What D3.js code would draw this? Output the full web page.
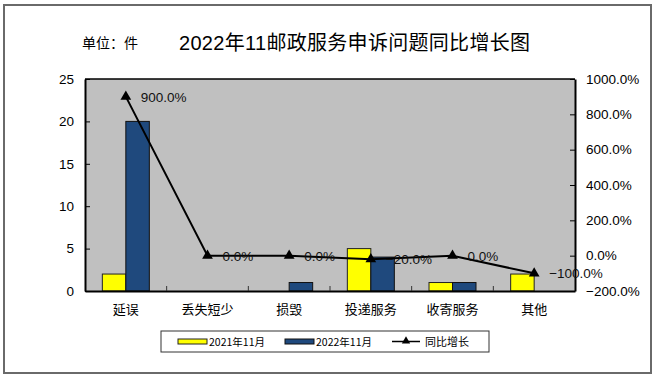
<!DOCTYPE html>
<html><head><meta charset="utf-8">
<script src="https://cdn.jsdelivr.net/npm/d3@7"></script>
<style>body{margin:0;background:#fff}svg{display:block}text{font-family:"Liberation Sans",Arial,"Noto Sans CJK SC",sans-serif}</style>
</head><body><svg id="c" width="656" height="379"></svg>
<script>
const categories = ["延误","丢失短少","损毁","投递服务","收寄服务","其他"];
const values2021 = [2,0,0,5,1,2];
const values2022 = [20,0,1,4,1,0];
const growth = [900,0,0,-20,0,-100];
const leftTicks = [0,5,10,15,20,25];
const rightTicks = [-200,0,200,400,600,800,1000];
const seriesNames = ["2021年11月","2022年11月","同比增长"];

const svg = d3.select("#c");
const cjk = '"Noto Sans CJK SC",sans-serif';
svg.append("rect").attr("x",4).attr("y",5).attr("width",647).attr("height",368)
  .attr("fill","#fff").attr("stroke","#6a6a6a").attr("stroke-width",2);

const m = {l:85,r:575,t:79,b:291};
const x = d3.scaleBand().domain(categories).range([m.l,m.r]);
const yL = d3.scaleLinear().domain([0,25]).range([m.b,m.t]);
const yR = d3.scaleLinear().domain([-200,1000]).range([m.b,m.t]);

svg.append("rect").attr("x",m.l).attr("y",m.t).attr("width",m.r-m.l).attr("height",m.b-m.t)
  .attr("fill","#c0c0c0");

// title
svg.append("text").attr("x",82).attr("y",48).attr("font-size",14).style("font-family",cjk).text("单位：件");
svg.append("text").attr("x",179).attr("y",50).attr("font-size",20).attr("textLength",351).text("2022年11邮政服务申诉问题同比增长图");

// bars
const bw = 23.5;
const g = svg.append("g");
categories.forEach((c,i)=>{
  const cx = x(c)+x.bandwidth()/2;
  if (values2021[i]>0) g.append("rect").attr("x",cx-bw).attr("y",yL(values2021[i])).attr("width",bw)
    .attr("height",yL(0)-yL(values2021[i])).attr("fill","#ffff00").attr("stroke","#222").attr("stroke-width",1);
  if (values2022[i]>0) g.append("rect").attr("x",cx).attr("y",yL(values2022[i])).attr("width",bw)
    .attr("height",yL(0)-yL(values2022[i])).attr("fill","#1f497d").attr("stroke","#111").attr("stroke-width",1);
});

// axes
const la = d3.axisLeft(yL).tickValues(leftTicks).tickSizeInner(-5).tickSizeOuter(0).tickPadding(11);
const ga = svg.append("g").attr("transform",`translate(${m.l},0)`).call(la);
ga.select(".domain").attr("stroke","#000").attr("stroke-width",2);
ga.selectAll("text").attr("font-size",13.5).attr("fill","#000");
const ra = d3.axisRight(yR).tickValues(rightTicks).tickSizeInner(-5).tickSizeOuter(0).tickPadding(11)
  .tickFormat(d=>d3.format(".1f")(d)+"%");
const gr = svg.append("g").attr("transform",`translate(${m.r},0)`).call(ra);
gr.select(".domain").attr("stroke","#000").attr("stroke-width",2);
gr.selectAll("text").attr("font-size",13.5).attr("fill","#000");
// top border
svg.append("line").attr("x1",m.l).attr("x2",m.r).attr("y1",m.t).attr("y2",m.t).attr("stroke","#000").attr("stroke-width",1.5);
// bottom axis
const ba = d3.axisBottom(x).tickSize(0).tickPadding(14);
const gb = svg.append("g").attr("transform",`translate(0,${m.b})`).call(ba);
gb.select(".domain").attr("stroke","#000").attr("stroke-width",2);
gb.selectAll("text").attr("font-size",13).attr("fill","#000").style("font-family",cjk);
categories.slice(1).forEach(c=>{
  svg.append("line").attr("x1",x(c)).attr("x2",x(c)).attr("y1",m.b).attr("y2",m.b-5).attr("stroke","#333");
});

// line
const pts = categories.map((c,i)=>[x(c)+x.bandwidth()/2, yR(growth[i])]);
svg.append("path").attr("d",d3.line()(pts)).attr("fill","none").attr("stroke","#000").attr("stroke-width",2);
const tri = d3.symbol().type(d3.symbolTriangle).size(50);
pts.forEach((p,i)=>{
  svg.append("path").attr("d",tri()).attr("transform",`translate(${p[0]},${p[1]})`).attr("fill","#000");
  svg.append("text").attr("x",p[0]+15).attr("y",p[1]+5).attr("font-size",13.5).attr("fill","#111")
    .text(d3.format(".1f")(growth[i])+"%");
});

// legend
svg.append("rect").attr("x",161).attr("y",331).attr("width",328).attr("height",21)
  .attr("fill","#fff").attr("stroke","#333").attr("stroke-width",1);
svg.append("rect").attr("x",178).attr("y",339).attr("width",29).attr("height",5).attr("fill","#ffff00").attr("stroke","#222");
svg.append("text").attr("x",209).attr("y",346).attr("font-size",10.5).style("font-family",cjk).text(seriesNames[0]);
svg.append("rect").attr("x",285).attr("y",339).attr("width",29).attr("height",5).attr("fill","#1f497d").attr("stroke","#111");
svg.append("text").attr("x",316).attr("y",346).attr("font-size",10.5).style("font-family",cjk).text(seriesNames[1]);
svg.append("line").attr("x1",392).attr("x2",420).attr("y1",341.5).attr("y2",341.5).attr("stroke","#000").attr("stroke-width",1.5);
svg.append("path").attr("d",d3.symbol().type(d3.symbolTriangle).size(30)()).attr("transform","translate(406,341)").attr("fill","#000");
svg.append("text").attr("x",425).attr("y",346).attr("font-size",11).style("font-family",cjk).text(seriesNames[2]);
</script></body></html>
